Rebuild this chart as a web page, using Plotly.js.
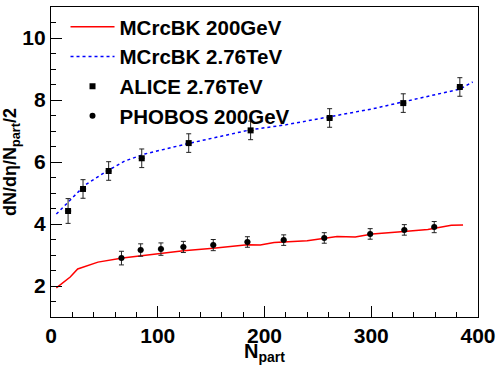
<!DOCTYPE html>
<html>
<head>
<meta charset="utf-8">
<script src="https://cdn.plot.ly/plotly-3.0.1.min.js"></script>
<style>html,body{margin:0;padding:0;background:#fff;}#chart{width:496px;height:365px;}</style>
</head>
<body>
<div id="chart"></div>
<script>
// MCrcBK 200 GeV curve
const rhicX = [5, 18, 25, 44, 67, 84, 104, 124, 152, 184, 196, 209, 240, 268, 285, 301, 325, 353, 375, 386];
const rhicY = [1.94, 2.29, 2.55, 2.77, 2.9, 2.97, 3.05, 3.14, 3.22, 3.33, 3.32, 3.4, 3.46, 3.6, 3.58, 3.68, 3.74, 3.82, 3.96, 3.97];
// MCrcBK 2.76 TeV curve
const lhcX = [5, 16, 32, 51, 69, 88, 129, 187, 220, 261, 302, 330, 383, 395];
const lhcY = [4.32, 4.71, 5.26, 5.68, 6.03, 6.26, 6.6, 7.04, 7.2, 7.46, 7.72, 7.94, 8.35, 8.58];
// ALICE 2.76 TeV data
const aliceX = [16, 30, 54, 85, 129, 187, 261, 330, 383];
const aliceY = [4.42, 5.13, 5.71, 6.12, 6.61, 7.02, 7.42, 7.9, 8.42];
const aliceErr = [0.4, 0.3, 0.3, 0.3, 0.3, 0.3, 0.3, 0.3, 0.3];
// PHOBOS 200 GeV data
const phobosX = [66, 84, 103, 124, 152, 184, 218, 256, 299, 331, 359];
const phobosY = [2.9, 3.16, 3.19, 3.26, 3.32, 3.42, 3.48, 3.55, 3.68, 3.81, 3.9];
const phobosErr = [0.22, 0.2, 0.2, 0.18, 0.18, 0.17, 0.17, 0.17, 0.17, 0.17, 0.18];

const FONT = 'Liberation Sans, Arial, sans-serif';

const traces = [
  {x: rhicX, y: rhicY, mode: 'lines', name: 'MCrcBK 200GeV',
   line: {color: '#ff0000', width: 1.5}},
  {x: lhcX, y: lhcY, mode: 'lines', name: 'MCrcBK 2.76TeV',
   line: {color: '#0000ff', width: 1.5, dash: '3px,3px'}},
  {x: aliceX, y: aliceY, mode: 'markers', name: 'ALICE 2.76TeV',
   marker: {symbol: 'square', size: 6, color: '#000'},
   error_y: {type: 'data', array: aliceErr, visible: true, color: '#222', thickness: 1, width: 2.5},
   error_x: {type: 'constant', value: 3, visible: true, color: '#555', thickness: 1, width: 0}},
  {x: phobosX, y: phobosY, mode: 'markers', name: 'PHOBOS 200GeV',
   marker: {symbol: 'circle', size: 6, color: '#000'},
   error_y: {type: 'data', array: phobosErr, visible: true, color: '#222', thickness: 1, width: 2.5},
   error_x: {type: 'constant', value: 3, visible: true, color: '#555', thickness: 1, width: 0}}
];

const layout = {
  width: 496, height: 365,
  margin: {l: 51, r: 18, t: 7, b: 48},
  paper_bgcolor: '#fff', plot_bgcolor: '#fff',
  font: {family: FONT, color: '#000', size: 20},
  showlegend: true,
  legend: {x: 0.034, y: 1.0, xanchor: 'left', yanchor: 'top', bgcolor: 'rgba(0,0,0,0)',
           font: {family: FONT, size: 20.5, color: '#000', weight: 'bold'}, tracegroupgap: 0, itemwidth: 44},
  xaxis: {range: [0, 400], tickvals: [0, 100, 200, 300, 400], ticks: 'inside', ticklen: 11,
          tickcolor: '#000', linecolor: '#000', linewidth: 1.2, mirror: true, showgrid: false, zeroline: false,
          tickfont: {family: FONT, size: 21, weight: 'bold'},
          minor: {dtick: 20, ticks: 'inside', ticklen: 5, tickcolor: '#000', showgrid: false},
          title: {text: 'N<sub>part</sub>', font: {family: FONT, size: 20, weight: 'bold'}, standoff: 6}},
  yaxis: {range: [1, 11], tickvals: [2, 4, 6, 8, 10], ticks: 'inside', ticklen: 11,
          tickcolor: '#000', linecolor: '#000', linewidth: 1.2, mirror: true, showgrid: false, zeroline: false,
          tickfont: {family: FONT, size: 21, weight: 'bold'},
          minor: {dtick: 0.5, ticks: 'inside', ticklen: 5, tickcolor: '#000', showgrid: false},
          title: {text: 'dN/dη/N<sub>part</sub>/2', font: {family: FONT, size: 18, weight: 'bold'}, standoff: 8}}
};

Plotly.newPlot('chart', traces, layout, {displayModeBar: false, staticPlot: true});
</script>
</body>
</html>
